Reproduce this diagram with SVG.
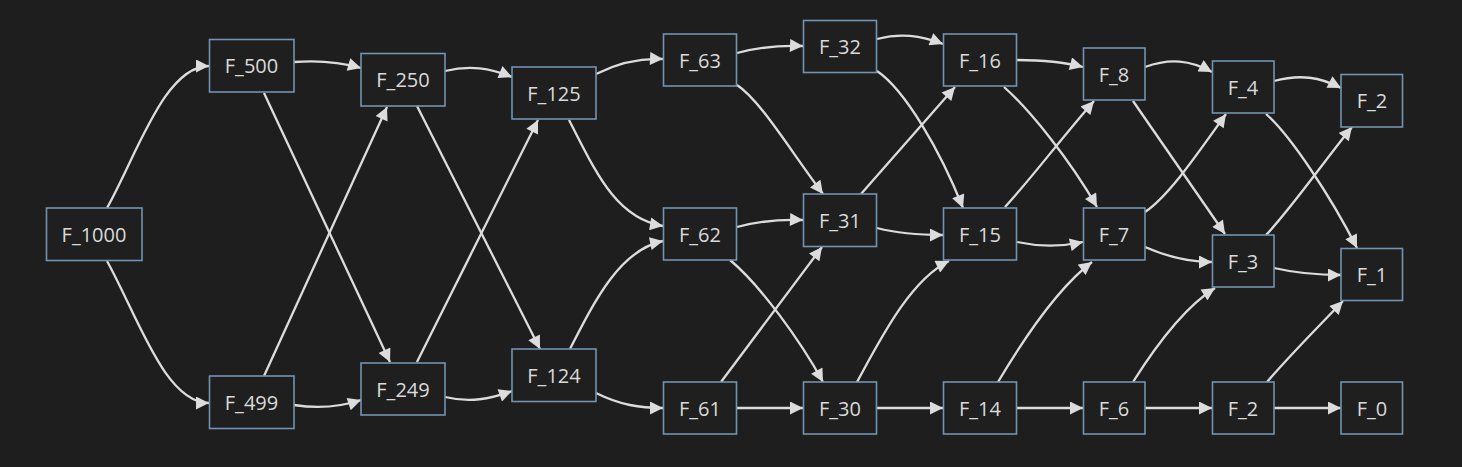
<svg xmlns="http://www.w3.org/2000/svg" width="1462" height="467" viewBox="0 0 1462 467">
<style>
.bg{fill:#1e1e1e}
.node rect{fill:#1f1f1f;stroke:#7393b3;stroke-width:1.6}
.node text{fill:#dadada;font-family:"Open Sans","Liberation Sans",sans-serif;font-size:20px;text-anchor:middle;dominant-baseline:central}
.edges path{fill:none;stroke:#dcdcdc;stroke-width:2.3;marker-end:url(#arr)}
</style>
<defs>
<marker id="arr" viewBox="0 0 10 10" refX="10" refY="5" markerUnits="userSpaceOnUse" markerWidth="14" markerHeight="13" orient="auto">
<path d="M0,0 L10,5 L0,10 z" fill="#dcdcdc"/>
</marker>
</defs>
<rect class="bg" x="0" y="0" width="1462" height="467"/>
<g id="edges" class="edges">
<path d="M107,208 C138,152 165,66 209,66"/>
<path d="M107,261 C138,317 165,403 209,403"/>
<path d="M294,62 C320,60 340,62 361,68"/>
<path d="M264,93 L390,362"/>
<path d="M264,376 L387,107"/>
<path d="M294,405 C320,409 340,407 361,400"/>
<path d="M445,71 C470,65 490,68 512,77"/>
<path d="M417,106 L540,349"/>
<path d="M417,362 L538,120"/>
<path d="M445,397 C470,403 490,399 512,391"/>
<path d="M596,74 C620,62 640,58 663,59"/>
<path d="M569,120 C595,170 615,218 663,226"/>
<path d="M570,349 C595,300 620,250 663,241"/>
<path d="M596,393 C620,405 640,408 663,408"/>
<path d="M737,53 C760,47 780,45 803,46"/>
<path d="M737,85 C760,100 790,150 823,194"/>
<path d="M737,227 C760,221 780,219 803,220"/>
<path d="M730,260 C760,285 800,340 823,382"/>
<path d="M721,382 L822,247"/>
<path d="M737,408 L803,408"/>
<path d="M877,39 C900,33 920,35 943,44"/>
<path d="M877,71 C905,90 940,150 963,208"/>
<path d="M861,194 L955,87"/>
<path d="M877,228 C900,234 920,235 943,235"/>
<path d="M857,382 C880,340 910,280 949,261"/>
<path d="M877,408 L943,408"/>
<path d="M1017,60 C1040,60 1060,61 1083,67"/>
<path d="M1004,87 C1030,110 1070,160 1097,207"/>
<path d="M1005,207 C1030,180 1060,140 1094,101"/>
<path d="M1017,242 C1040,247 1060,247 1083,242"/>
<path d="M998,382 C1020,345 1055,290 1092,262"/>
<path d="M1017,408 L1083,408"/>
<path d="M1145,67 C1170,58 1190,60 1212,72"/>
<path d="M1133,101 L1225,234"/>
<path d="M1145,212 C1170,195 1200,150 1226,114"/>
<path d="M1145,247 C1170,258 1190,262 1212,262"/>
<path d="M1133,382 C1150,355 1180,310 1215,288"/>
<path d="M1145,408 L1212,408"/>
<path d="M1274,81 C1300,74 1320,77 1341,88"/>
<path d="M1266,114 C1290,135 1330,195 1357,248"/>
<path d="M1266,235 C1290,210 1325,160 1352,127"/>
<path d="M1274,268 C1300,274 1320,275 1341,275"/>
<path d="M1267,382 C1290,355 1320,325 1343,301"/>
<path d="M1274,408 L1341,408"/>
</g>
<g id="F_1000" class="node"><rect x="46.5" y="208" width="95.5" height="52.5"/><text x="94" y="234">F_1000</text></g>
<g id="F_500" class="node"><rect x="209.5" y="39.5" width="84.5" height="52.5"/><text x="251.5" y="65.5">F_500</text></g>
<g id="F_499" class="node"><rect x="209.5" y="376" width="84.5" height="52.5"/><text x="251.5" y="402">F_499</text></g>
<g id="F_250" class="node"><rect x="361" y="53.5" width="84" height="52.5"/><text x="403" y="79.5">F_250</text></g>
<g id="F_249" class="node"><rect x="361" y="363" width="84" height="52"/><text x="403" y="389">F_249</text></g>
<g id="F_125" class="node"><rect x="512" y="67" width="84" height="52"/><text x="554" y="93">F_125</text></g>
<g id="F_124" class="node"><rect x="512" y="349" width="84" height="52.5"/><text x="554" y="375">F_124</text></g>
<g id="F_63" class="node"><rect x="663.5" y="34" width="73" height="52"/><text x="700" y="60">F_63</text></g>
<g id="F_62" class="node"><rect x="663.5" y="208" width="73" height="52"/><text x="700" y="234">F_62</text></g>
<g id="F_61" class="node"><rect x="663.5" y="382" width="73" height="52"/><text x="700" y="408">F_61</text></g>
<g id="F_32" class="node"><rect x="803.5" y="20.5" width="73" height="52"/><text x="840" y="46.5">F_32</text></g>
<g id="F_31" class="node"><rect x="803.5" y="194" width="73" height="52.5"/><text x="840" y="220">F_31</text></g>
<g id="F_30" class="node"><rect x="803.5" y="382" width="73" height="52"/><text x="840" y="408">F_30</text></g>
<g id="F_16" class="node"><rect x="943.5" y="34" width="73" height="52"/><text x="980" y="60">F_16</text></g>
<g id="F_15" class="node"><rect x="943.5" y="208" width="73" height="52"/><text x="980" y="234">F_15</text></g>
<g id="F_14" class="node"><rect x="943.5" y="382" width="73" height="52"/><text x="980" y="408">F_14</text></g>
<g id="F_8" class="node"><rect x="1083.5" y="48" width="61.5" height="52"/><text x="1114" y="74">F_8</text></g>
<g id="F_7" class="node"><rect x="1083.5" y="208" width="61.5" height="52"/><text x="1114" y="234">F_7</text></g>
<g id="F_6" class="node"><rect x="1083.5" y="382" width="61.5" height="52"/><text x="1114" y="408">F_6</text></g>
<g id="F_4" class="node"><rect x="1212.5" y="61" width="61.5" height="52"/><text x="1243" y="87">F_4</text></g>
<g id="F_3" class="node"><rect x="1212.5" y="235" width="61.5" height="52"/><text x="1243" y="261">F_3</text></g>
<g id="F_2b" class="node"><rect x="1212.5" y="382" width="61.5" height="52"/><text x="1243" y="408">F_2</text></g>
<g id="F_2" class="node"><rect x="1341" y="74.5" width="61.5" height="52.5"/><text x="1372" y="100.5">F_2</text></g>
<g id="F_1" class="node"><rect x="1341" y="248.5" width="61.5" height="52"/><text x="1372" y="274.5">F_1</text></g>
<g id="F_0" class="node"><rect x="1341" y="382" width="61.5" height="52"/><text x="1372" y="408">F_0</text></g>
</svg>
